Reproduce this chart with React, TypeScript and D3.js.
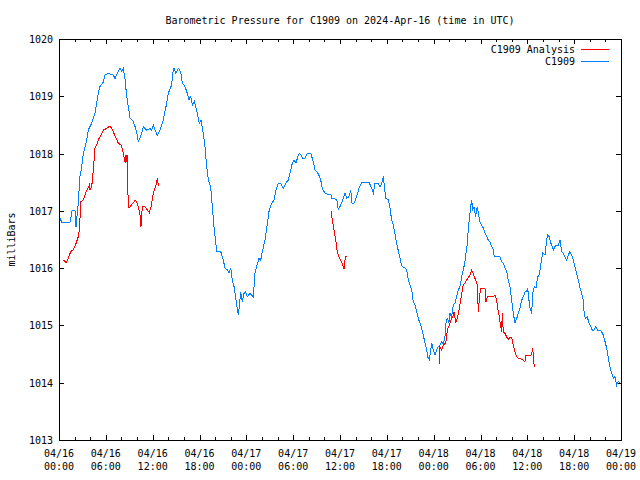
import React from 'react';
import * as d3 from 'd3';

// Hours since 2024-04-16 00:00 UTC and pressure (mBar)
const blueHours = [
  0.00, 0.38, 1.41, 1.67, 2.05, 2.18, 2.47, 2.69, 2.91, 3.11, 3.33, 3.55, 3.75, 4.19, 4.39, 4.61, 4.83, 5.03, 5.25, 5.68,
  5.89, 6.32, 6.96, 7.17, 7.60, 7.81, 8.03, 8.24, 8.45, 8.67, 8.88, 9.10, 9.52, 9.74, 9.95, 10.16, 10.38, 10.59, 10.80, 11.24,
  11.66, 11.88, 12.08, 12.30, 12.59, 12.94, 13.36, 13.80, 14.00, 14.44, 14.57, 14.73, 14.95, 15.28, 15.59, 15.80, 16.14, 16.44, 16.65, 16.87,
  17.08, 17.33, 17.64, 17.97, 18.19, 18.49, 18.70, 18.92, 19.13, 19.43, 19.64, 19.86, 20.07, 20.20, 20.72, 21.05, 21.27, 21.56, 21.78, 22.00,
  22.20, 22.42, 22.68, 22.84, 22.97, 23.10, 23.28, 23.48, 23.70, 23.92, 24.12, 24.47, 24.89, 25.11, 25.33, 25.62, 25.84, 26.10, 26.39, 26.69,
  26.94, 27.25, 27.54, 27.80, 28.09, 28.40, 28.73, 29.04, 29.38, 29.68, 29.89, 30.11, 30.36, 30.66, 30.87, 31.22, 31.52, 31.81, 32.25, 32.58,
  32.80, 33.22, 33.53, 33.73, 34.08, 34.37, 34.81, 34.94, 35.58, 35.78, 36.09, 36.34, 36.64, 36.86, 37.15, 37.37, 37.54, 37.79, 38.05, 38.43,
  38.78, 39.75, 40.06, 40.27, 40.48, 40.91, 41.12, 41.34, 41.55, 41.67, 41.85, 42.19, 42.40, 42.62, 42.83, 42.95, 43.17, 43.39, 43.60, 43.78,
  43.98, 44.33, 44.54, 44.75, 45.06, 45.26, 45.39, 45.61, 45.83, 46.03, 46.25, 46.47, 46.67, 46.89, 47.11, 47.23, 47.44, 47.62, 47.75, 47.95,
  48.17, 48.39, 48.59, 48.81, 49.03, 49.23, 49.45, 49.58, 49.74, 49.96, 50.09, 50.31, 50.51, 50.73, 50.95, 51.15, 51.37, 51.59, 51.80, 52.01,
  52.14, 52.31, 52.43, 52.56, 52.65, 52.74, 52.87, 53.00, 53.16, 53.38, 53.59, 53.77, 53.93, 54.15, 54.36, 54.57, 54.79, 55.00, 55.21, 55.43,
  55.64, 55.77, 56.50, 56.71, 56.92, 57.14, 57.36, 57.56, 57.78, 58.00, 58.20, 58.42, 58.64, 58.84, 59.06, 59.28, 59.48, 59.70, 59.92, 60.04,
  60.21, 60.34, 60.56, 60.68, 60.89, 61.11, 61.33, 61.53, 61.75, 61.97, 62.26, 62.48, 62.61, 62.81, 63.03, 63.33, 63.63, 63.97, 64.18, 64.40,
  64.60, 64.82, 65.04, 65.24, 65.46, 65.68, 65.89, 66.10, 66.32, 66.53, 66.75, 66.96, 67.17, 67.30, 67.48, 67.68, 67.90, 68.12, 68.32, 68.54,
  68.76, 69.01, 69.31, 69.52, 69.73, 69.95, 70.17, 70.37, 70.59, 70.81, 71.02, 71.23, 71.45, 71.66, 71.88,
];
const bluePressure = [
  1016.90, 1016.80, 1016.80, 1017.00, 1017.00, 1016.72, 1017.14, 1017.60, 1017.77, 1018.00, 1018.12, 1018.24, 1018.41, 1018.53, 1018.62, 1018.71, 1018.88, 1019.05, 1019.17, 1019.25,
  1019.37, 1019.40, 1019.37, 1019.31, 1019.43, 1019.49, 1019.43, 1019.49, 1019.31, 1019.00, 1018.82, 1018.62, 1018.56, 1018.47, 1018.38, 1018.21, 1018.27, 1018.35, 1018.47, 1018.41,
  1018.44, 1018.41, 1018.50, 1018.41, 1018.32, 1018.41, 1018.59, 1018.88, 1019.05, 1019.20, 1019.40, 1019.49, 1019.40, 1019.49, 1019.43, 1019.23, 1019.17, 1019.05, 1018.94, 1019.00,
  1018.85, 1018.91, 1018.76, 1018.53, 1018.59, 1018.35, 1018.12, 1017.77, 1017.54, 1017.42, 1017.07, 1016.72, 1016.46, 1016.29, 1016.29, 1016.14, 1016.00, 1015.97, 1015.91, 1016.00,
  1015.79, 1015.68, 1015.44, 1015.30, 1015.18, 1015.33, 1015.59, 1015.41, 1015.56, 1015.59, 1015.50, 1015.56, 1015.50, 1015.91, 1016.03, 1016.17, 1016.14, 1016.32, 1016.49, 1016.78,
  1017.02, 1017.13, 1017.19, 1017.36, 1017.48, 1017.48, 1017.39, 1017.48, 1017.54, 1017.71, 1017.83, 1017.89, 1017.83, 1017.98, 1018.00, 1017.92, 1017.92, 1018.00, 1018.00, 1017.86,
  1017.71, 1017.65, 1017.54, 1017.39, 1017.31, 1017.29, 1017.29, 1017.22, 1017.20, 1017.02, 1017.10, 1017.19, 1017.31, 1017.22, 1017.25, 1017.36, 1017.13, 1017.13, 1017.22, 1017.39,
  1017.49, 1017.49, 1017.39, 1017.31, 1017.48, 1017.48, 1017.42, 1017.48, 1017.60, 1017.45, 1017.22, 1017.19, 1017.05, 1016.84, 1016.75, 1016.67, 1016.49, 1016.35, 1016.23, 1016.11,
  1016.03, 1016.00, 1015.97, 1015.79, 1015.68, 1015.56, 1015.41, 1015.36, 1015.24, 1015.12, 1015.04, 1014.95, 1014.83, 1014.69, 1014.57, 1014.45, 1014.40, 1014.57, 1014.69, 1014.57,
  1014.48, 1014.57, 1014.63, 1014.66, 1014.72, 1014.66, 1014.80, 1015.04, 1015.12, 1015.05, 1015.21, 1015.15, 1015.36, 1015.39, 1015.50, 1015.62, 1015.68, 1015.85, 1015.97, 1016.11,
  1016.26, 1016.43, 1016.67, 1016.84, 1016.96, 1017.07, 1017.19, 1017.02, 1017.07, 1016.90, 1017.07, 1016.93, 1016.81, 1016.75, 1016.70, 1016.61, 1016.55, 1016.49, 1016.46, 1016.38,
  1016.32, 1016.20, 1016.20, 1016.11, 1016.09, 1016.00, 1015.94, 1015.79, 1015.68, 1015.44, 1015.21, 1015.04, 1015.12, 1015.21, 1015.30, 1015.44, 1015.50, 1015.59, 1015.59, 1015.65,
  1015.44, 1015.30, 1015.21, 1015.56, 1015.68, 1015.65, 1015.85, 1015.88, 1016.09, 1016.26, 1016.23, 1016.49, 1016.58, 1016.55, 1016.43, 1016.32, 1016.40, 1016.40, 1016.49, 1016.29,
  1016.26, 1016.20, 1016.14, 1016.23, 1016.29, 1016.23, 1016.14, 1016.03, 1015.91, 1015.79, 1015.65, 1015.56, 1015.44, 1015.18, 1015.12, 1015.15, 1015.04, 1014.98, 1014.92, 1014.92,
  1014.98, 1014.92, 1014.92, 1014.89, 1014.83, 1014.72, 1014.60, 1014.43, 1014.28, 1014.16, 1014.08, 1014.11, 1013.96, 1014.02, 1013.99,
];

const analysisHours1 = [
  0.47, 0.90, 1.19, 1.50, 1.83, 2.18, 2.47, 2.60, 2.69, 2.78, 3.11, 3.42, 3.68, 3.88, 3.97, 4.19, 4.39, 4.61, 4.83, 5.03,
  5.25, 5.47, 5.68, 6.11, 6.53, 6.75, 7.05, 7.30, 7.60, 7.94, 8.16, 8.37, 8.49, 8.58, 8.67, 8.75, 8.80, 8.88, 9.10, 9.44,
  9.74, 9.95, 10.16, 10.38, 10.50, 10.67, 11.02, 11.31, 11.57, 11.79, 12.00, 12.21, 12.43, 12.59, 12.72, 12.85,
];
const analysisPressure1 = [
  1016.15, 1016.10, 1016.17, 1016.29, 1016.32, 1016.43, 1016.55, 1016.67, 1016.87, 1017.16, 1017.19, 1017.31, 1017.39, 1017.45, 1017.36, 1017.42, 1017.71, 1018.09, 1018.15, 1018.24,
  1018.29, 1018.35, 1018.41, 1018.44, 1018.48, 1018.44, 1018.35, 1018.27, 1018.18, 1018.15, 1018.06, 1017.92, 1017.83, 1017.98, 1017.85, 1017.98, 1017.51, 1017.05, 1017.07, 1017.13,
  1017.18, 1017.16, 1017.07, 1016.93, 1016.72, 1017.07, 1017.07, 1017.02, 1016.97, 1017.07, 1017.25, 1017.36, 1017.45, 1017.57, 1017.45, 1017.45,
];
const analysisHours2 = [34.85, 35.06, 35.23, 35.45, 35.65, 35.87, 36.09, 36.34, 36.55, 36.68, 36.93];
const analysisPressure2 = [1016.99, 1016.81, 1016.67, 1016.49, 1016.29, 1016.20, 1016.14, 1016.06, 1015.98, 1016.20, 1016.20];
const analysisHours3 = [
  48.72, 48.73, 49.03, 49.23, 49.54, 49.80, 50.00, 50.22, 50.44, 50.64, 50.82, 51.02, 51.24, 51.46, 51.67, 51.80, 52.10, 52.36, 52.65, 52.87,
  53.07, 53.29, 53.59, 53.72, 53.85, 54.02, 54.57, 54.70, 54.87, 55.64, 55.86, 56.07, 56.20, 56.41, 56.59, 56.71, 56.79, 56.92, 57.14, 57.36,
  57.56, 57.78, 58.00, 58.20, 58.42, 58.64, 58.84, 59.28, 59.70, 59.79, 60.34, 60.56, 60.68, 60.76, 60.89,
];
const analysisPressure3 = [
  1014.32, 1014.63, 1014.57, 1014.66, 1014.69, 1014.95, 1015.00, 1015.10, 1015.15, 1015.24, 1015.04, 1015.12, 1015.27, 1015.44, 1015.62, 1015.71, 1015.76, 1015.82, 1015.88, 1015.96,
  1015.91, 1015.82, 1015.71, 1015.24, 1015.47, 1015.65, 1015.65, 1015.41, 1015.50, 1015.50, 1015.53, 1015.44, 1015.30, 1015.15, 1014.98, 1014.89, 1015.21, 1014.89, 1014.86, 1014.80,
  1014.75, 1014.80, 1014.78, 1014.66, 1014.54, 1014.45, 1014.43, 1014.41, 1014.37, 1014.47, 1014.47, 1014.50, 1014.60, 1014.50, 1014.27,
];

const xTickHours = [0, 6, 12, 18, 24, 30, 36, 42, 48, 54, 60, 66, 72];
const xTickDates = ['04/16', '04/16', '04/16', '04/16', '04/17', '04/17', '04/17', '04/17', '04/18', '04/18', '04/18', '04/18', '04/19'];
const xTickTimes = ['00:00', '06:00', '12:00', '18:00', '00:00', '06:00', '12:00', '18:00', '00:00', '06:00', '12:00', '18:00', '00:00'];
const yTicks = [1013, 1014, 1015, 1016, 1017, 1018, 1019, 1020];

const seriesNames = ['C1909 Analysis', 'C1909'];
const seriesColors = ['#ff0000', '#0080ff'];
const titleText = 'Barometric Pressure for C1909 on 2024-Apr-16 (time in UTC)';
const yLabel = 'milliBars';

const FONT = "'DejaVu Sans Mono', 'Liberation Mono', monospace";

export default function App() {
  const L = 59, R = 621, T = 39, B = 440;
  const x = d3.scaleLinear().domain([0, 72]).range([L, R]);
  const y = d3.scaleLinear().domain([1013, 1020]).range([B, T]);
  const line = d3.line<[number, number]>().x(d => x(d[0])).y(d => y(d[1]));
  const zip = (h: number[], p: number[]) => h.map((v, i) => [v, p[i]] as [number, number]);

  const blue = line(zip(blueHours, bluePressure)) || '';
  const reds = [
    zip(analysisHours1, analysisPressure1),
    zip(analysisHours2, analysisPressure2),
    zip(analysisHours3, analysisPressure3),
  ].map(s => line(s) || '');

  const minorHours = d3.range(0, 73, 2).filter(h => h % 6 !== 0);

  return (
    <svg width={640} height={480} style={{ position: 'absolute', left: 0, top: 0, background: '#fff' }}
      fontFamily={FONT} fontSize={10}>
      <rect x={0} y={0} width={640} height={480} fill="#fff" />
      <text x={340} y={24} textAnchor="middle" fill="#000">{titleText}</text>
      <text transform={`translate(15,${(T + B) / 2}) rotate(-90)`} textAnchor="middle" fill="#000">{yLabel}</text>

      <g shapeRendering="crispEdges" stroke="#000" strokeWidth={1}>
        {yTicks.map(v => (
          <g key={'y' + v}>
            <line x1={L} x2={L + 5} y1={Math.round(y(v)) + 0.5} y2={Math.round(y(v)) + 0.5} />
            <line x1={R - 5} x2={R} y1={Math.round(y(v)) + 0.5} y2={Math.round(y(v)) + 0.5} />
          </g>
        ))}
        {xTickHours.map(h => (
          <g key={'x' + h}>
            <line x1={Math.round(x(h)) + 0.5} x2={Math.round(x(h)) + 0.5} y1={B} y2={B - 5} />
            <line x1={Math.round(x(h)) + 0.5} x2={Math.round(x(h)) + 0.5} y1={T} y2={T + 5} />
          </g>
        ))}
        {minorHours.map(h => (
          <g key={'m' + h}>
            <line x1={Math.round(x(h)) + 0.5} x2={Math.round(x(h)) + 0.5} y1={B} y2={B - 3} />
            <line x1={Math.round(x(h)) + 0.5} x2={Math.round(x(h)) + 0.5} y1={T} y2={T + 3} />
          </g>
        ))}
      </g>

      {yTicks.map(v => (
        <text key={'yl' + v} x={L - 6} y={y(v) + 4} textAnchor="end" fill="#000">{v}</text>
      ))}
      {xTickHours.map((h, i) => (
        <g key={'xl' + h}>
          <text x={x(h)} y={457} textAnchor="middle" fill="#000">{xTickDates[i]}</text>
          <text x={x(h)} y={470} textAnchor="middle" fill="#000">{xTickTimes[i]}</text>
        </g>
      ))}

      <g fill="none" strokeWidth={1} shapeRendering="crispEdges">
        <path d={blue} stroke={seriesColors[1]} />
        {reds.map((d, i) => <path key={'r' + i} d={d} stroke={seriesColors[0]} />)}
      </g>

      <rect x={L + 0.5} y={T + 0.5} width={R - L} height={B - T} fill="none" stroke="#000" shapeRendering="crispEdges" />

      {seriesNames.map((name, i) => (
        <g key={'lg' + i}>
          <text x={575} y={53 + i * 12} textAnchor="end" fill="#000">{name}</text>
          <line x1={581} x2={609} y1={49.5 + i * 12} y2={49.5 + i * 12} stroke={seriesColors[i]} shapeRendering="crispEdges" />
        </g>
      ))}
    </svg>
  );
}
